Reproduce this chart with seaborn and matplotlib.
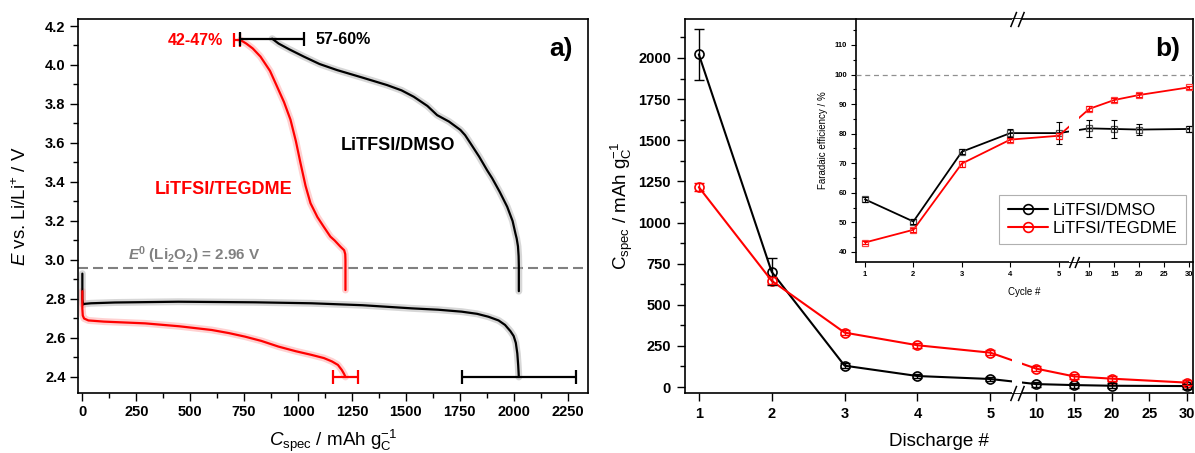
import numpy as np
import matplotlib
matplotlib.use('Agg')
import matplotlib.pyplot as plt
import seaborn as sns
from matplotlib.path import Path
from matplotlib.lines import Line2D
from matplotlib.ticker import MultipleLocator

#--- a) galvanostatic profiles (capacity in mAh/gC, potential in V)
dmso_dis_cap = [0, 0, 3, 10, 40, 150, 445, 800, 1063, 1300, 1527, 1650, 1759, 1830, 1883,
                1930, 1960, 1985, 2000, 2010, 2017, 2021, 2024]
dmso_dis_v = [2.93, 2.80, 2.772, 2.775, 2.778, 2.782, 2.786, 2.783, 2.778, 2.768, 2.752, 2.745,
              2.735, 2.724, 2.709, 2.69, 2.667, 2.635, 2.61, 2.575, 2.52, 2.46, 2.40]
dmso_chg_cap = [2024, 2024, 2023, 2020, 2014, 2008, 1995, 1970, 1935, 1900, 1877, 1840, 1800,
                1775, 1753, 1700, 1645, 1600, 1537, 1480, 1413, 1300, 1181, 1100, 1027, 960, 910, 880]
dmso_chg_v = [2.84, 2.97, 3.02, 3.07, 3.11, 3.137, 3.20, 3.273, 3.35, 3.42, 3.46, 3.53, 3.598,
              3.64, 3.667, 3.71, 3.743, 3.79, 3.837, 3.87, 3.897, 3.935, 3.974, 4.005, 4.043, 4.08, 4.11, 4.135]
teg_dis_cap = [0, 0, 2, 8, 28, 100, 291, 450, 600, 680, 754, 830, 909, 990, 1064, 1120, 1157,
               1185, 1203, 1214, 1220]
teg_dis_v = [2.84, 2.75, 2.715, 2.70, 2.69, 2.684, 2.675, 2.66, 2.641, 2.625, 2.607, 2.585, 2.556,
             2.532, 2.513, 2.497, 2.48, 2.462, 2.436, 2.415, 2.40]
teg_chg_cap = [1220, 1220, 1219, 1214, 1197, 1170, 1150, 1119, 1090, 1058, 1035, 1011, 990, 965,
               935, 903, 870, 826, 790, 760, 733]
teg_chg_v = [2.846, 3.0, 3.03, 3.05, 3.068, 3.10, 3.12, 3.171, 3.22, 3.291, 3.38, 3.50, 3.61, 3.72,
             3.81, 3.889, 3.97, 4.043, 4.085, 4.11, 4.128]

# end-point spreads
teg_end_cap = [718, 1222]
teg_end_v = [4.13, 2.40]
teg_end_err = [15, 58]
dmso_end_cap = [880, 2025]
dmso_end_v = [4.135, 2.40]
dmso_end_err = [147, 266]

#--- b) capacity vs discharge number, inset faradaic efficiency
cycles = [1, 2, 3, 4, 5, 10, 15, 20, 30]
dmso_cap = [2022, 700, 130, 67, 49, 18, 12, 8, 6]
dmso_cap_err = [155, 82, 15, 15, 15, 15, 15, 15, 15]
teg_cap = [1215, 646, 331, 254, 209, 112, 65, 51, 27]
teg_cap_err = [25, 20, 15, 15, 15, 15, 15, 15, 15]
fe_dmso = [57.8, 50.3, 73.9, 80.2, 80.2, 81.8, 81.6, 81.4, 81.6]
fe_dmso_err = [0.8, 0.8, 0.8, 1.4, 3.7, 3.0, 2.9, 1.9, 1.0]
fe_teg = [43.2, 47.5, 69.9, 78.0, 79.3, 88.4, 91.4, 93.1, 95.7]
fe_teg_err = [0.6, 0.6, 1.0, 0.7, 1.0, 0.8, 0.6, 0.6, 0.5]
labels = ['LiTFSI/DMSO', 'LiTFSI/TEGDME']

sns.set_style('ticks')
plt.rcParams.update({
    'font.family': ['Liberation Sans', 'DejaVu Sans'],
    'font.weight': 'bold',
    'axes.labelweight': 'normal',
    'mathtext.fontset': 'custom',
    'mathtext.rm': 'Liberation Sans:normal',
    'mathtext.it': 'Liberation Sans:italic:normal',
    'mathtext.bf': 'Liberation Sans:bold',
    'mathtext.bfit': 'Liberation Sans:italic:bold',
    'axes.edgecolor': 'black', 'text.color': 'black', 'axes.labelcolor': 'black',
    'xtick.color': 'black', 'ytick.color': 'black',
    'axes.linewidth': 1.2,
})

RED = '#ff0000'


# broken x axis: 1..5 linear, squeezed gap 5..10, then compressed 10..30
def fwd(x):
    x = np.asarray(x, dtype=float)
    return np.where(x <= 5, x, np.where(x <= 10, 5 + (x - 5) * 0.126, 5.63 + (x - 10) * 0.1034))


def inv(p):
    p = np.asarray(p, dtype=float)
    return np.where(p <= 5, p, np.where(p <= 5.63, 5 + (p - 5) / 0.126, 10 + (p - 5.63) / 0.1034))


slash = Path([(-0.9, -1), (-0.1, 1), (0.1, -1), (0.9, 1)],
             [Path.MOVETO, Path.LINETO, Path.MOVETO, Path.LINETO])


def add_break(ax, lo, hi, ys, ms, ymax=1):
    ax.axvspan(lo, hi, ymax=ymax, color='white', zorder=2.6, lw=0)
    xc = float(inv((fwd(lo) + fwd(hi)) / 2))
    ax.plot([xc] * len(ys), ys, transform=ax.get_xaxis_transform(), ls='none',
            marker=slash, ms=ms, mec='black', mew=1.1, clip_on=False, zorder=5)


fig = plt.figure(figsize=(11.95, 4.53), dpi=100)
axa = fig.add_axes([0.0653, 0.1325, 0.4268, 0.8256])
axb = fig.add_axes([0.5732, 0.1325, 0.4251, 0.8256])
axi = fig.add_axes([0.7163, 0.4216, 0.2820, 0.5365])

#--- panel a
curves = [(dmso_dis_cap, dmso_dis_v, 'black', '#a8a8a8'),
          (dmso_chg_cap, dmso_chg_v, 'black', '#a8a8a8'),
          (teg_dis_cap, teg_dis_v, RED, '#ff9a9a'),
          (teg_chg_cap, teg_chg_v, RED, '#ff9a9a')]
for cap, v, col, halo in curves:
    sns.lineplot(x=cap, y=v, ax=axa, sort=False, estimator=None, color=halo, lw=5, alpha=0.45)
for cap, v, col, halo in curves:
    sns.lineplot(x=cap, y=v, ax=axa, sort=False, estimator=None, color=col, lw=1.6)

axa.errorbar(teg_end_cap, teg_end_v, xerr=teg_end_err, fmt='none', ecolor=RED,
             elinewidth=1.6, capsize=5, capthick=1.6, zorder=4)
axa.errorbar(dmso_end_cap, dmso_end_v, xerr=dmso_end_err, fmt='none', ecolor='black',
             elinewidth=1.6, capsize=5, capthick=1.6, zorder=4)
axa.axhline(2.96, color='#808080', ls=(0, (4.8, 2.4)), lw=1.5, zorder=1)

axa.text(652, 4.128, '42-47%', color=RED, ha='right', va='center', fontsize=11.5)
axa.text(1080, 4.13, '57-60%', ha='left', va='center', fontsize=11.5)
axa.text(654, 3.36, 'LiTFSI/TEGDME', color=RED, ha='center', va='center', fontsize=13)
axa.text(1463, 3.587, 'LiTFSI/DMSO', ha='center', va='center', fontsize=13)
axa.text(213, 3.025, r'$\mathbfit{E}^{\mathbf{0}}$ (Li$_{\mathbf{2}}$O$_{\mathbf{2}}$) = 2.96 V',
         color='#808080', ha='left', va='center', fontsize=11)
axa.text(0.947, 0.92, 'a)', transform=axa.transAxes, ha='center', va='center', fontsize=19)

axa.set_xlim(-20, 2345)
axa.set_ylim(2.318, 4.236)
axa.xaxis.set_major_locator(MultipleLocator(250))
axa.xaxis.set_minor_locator(MultipleLocator(125))
axa.yaxis.set_major_locator(MultipleLocator(0.2))
axa.yaxis.set_minor_locator(MultipleLocator(0.1))
axa.yaxis.set_major_formatter('{x:.1f}')
axa.set_xlabel(r'$\mathit{C}_{\rm spec}$ / mAh g$_{\rm C}^{-1}$', fontsize=13.5)
axa.set_ylabel(r'$\mathit{E}$ vs. Li/Li$^{+}$ / V', fontsize=13.5)
axa.xaxis.set_label_coords(0.5, -0.094)
axa.yaxis.set_label_coords(-0.094, 0.5)
axa.tick_params(which='major', direction='out', length=6, width=1, labelsize=10.5, pad=3)
axa.tick_params(which='minor', direction='out', length=3.5, width=1)

#--- panel b
for y, err, col in [(dmso_cap, dmso_cap_err, 'black'), (teg_cap, teg_cap_err, RED)]:
    sns.lineplot(x=cycles, y=y, ax=axb, color=col, lw=1.5, marker='o', ms=6.5,
                 mfc='none', mec=col, mew=1.2, legend=False)
    axb.errorbar(cycles, y, yerr=err, fmt='none', ecolor=col, elinewidth=1,
                 capsize=3.5, capthick=1, zorder=3)
axb.set_xscale('function', functions=(fwd, inv))
axb.set_xlim(0.81, 30.8)
axb.set_ylim(-36, 2237)
axb.set_xticks([1, 2, 3, 4, 5, 10, 15, 20, 25, 30])
axb.set_xticklabels(['1', '2', '3', '4', '5', '10', '15', '20', '25', '30'])
axb.xaxis.set_minor_locator(plt.NullLocator())
axb.yaxis.set_major_locator(MultipleLocator(250))
axb.yaxis.set_minor_locator(MultipleLocator(125))
axb.set_xlabel('Discharge #', fontsize=13.5)
axb.set_ylabel(r'C$_{\rm spec}$ / mAh g$_{\rm C}^{-1}$', fontsize=13.5)
axb.xaxis.set_label_coords(0.5, -0.107)
axb.yaxis.set_label_coords(-0.098, 0.5)
axb.tick_params(which='major', direction='out', length=6, width=1, labelsize=10.5, pad=4)
axb.tick_params(which='minor', direction='out', length=3.5, width=1)
axb.text(0.95, 0.921, 'b)', transform=axb.transAxes, ha='center', va='center', fontsize=19)
add_break(axb, 7.38, 8.49, [0, 1], 11)

#--- inset
axi.set_facecolor('none')
for y, err, col, edge in [(fe_dmso, fe_dmso_err, 'black', '#505050'), (fe_teg, fe_teg_err, RED, '#ff4040')]:
    sns.lineplot(x=cycles, y=y, ax=axi, color=col, lw=1.3, marker='s', ms=4,
                 mfc='none', mec=edge, mew=0.9, legend=False)
    axi.errorbar(cycles, y, yerr=err, fmt='none', ecolor=col, elinewidth=0.8,
                 capsize=2.5, capthick=0.8, zorder=3)
axi.axhline(100, color='#909090', lw=0.9, ls=(0, (4, 3)), zorder=3)
axi.set_xscale('function', functions=(fwd, inv))
axi.set_xlim(0.815, 30.7)
axi.set_xticks([1, 2, 3, 4, 5, 10, 15, 20, 25, 30])
axi.set_xticklabels(['1', '2', '3', '4', '5', '10', '15', '20', '25', '30'])
axi.xaxis.set_minor_locator(plt.NullLocator())
axi.yaxis.set_major_locator(MultipleLocator(10))
axi.yaxis.set_minor_locator(MultipleLocator(5))
axi.set_ylim(36.6, 118.8)
axi.spines['top'].set_visible(False)
axi.spines['right'].set_visible(False)
axi.set_xlabel('Cycle #', fontsize=7)
axi.set_ylabel('Faradaic efficiency / %', fontsize=7)
axi.xaxis.set_label_coords(0.5, -0.103)
axi.yaxis.set_label_coords(-0.083, 0.5)
axi.tick_params(which='major', direction='out', length=3.5, width=0.8, labelsize=5.5, pad=3)
axi.tick_params(which='minor', direction='out', length=2, width=0.8)
add_break(axi, 6.6, 8.4, [0], 8, ymax=0.9)

handles = [Line2D([], [], color=c, lw=1.5, marker='o', ms=7, mfc='none', mec=c, mew=1.2)
           for c in ['black', RED]]
leg = axi.legend(handles, labels, loc='lower right', bbox_to_anchor=(0.979, 0.074),
                 frameon=True, fancybox=False, edgecolor='#b0b0b0', framealpha=1,
                 prop={'size': 12, 'weight': 'normal'}, handlelength=2.4,
                 borderpad=0.5, labelspacing=0.15, handletextpad=0.3, borderaxespad=0)
leg.get_frame().set_linewidth(0.8)

fig.savefig('out.png', dpi=100)
